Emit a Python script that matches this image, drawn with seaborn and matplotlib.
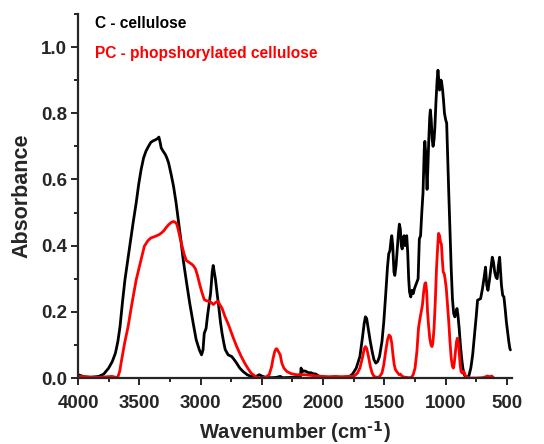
"""
FTIR spectra: cellulose (C) vs phosphorylated cellulose (PC).
"""

import matplotlib
matplotlib.use("Agg")
import matplotlib.pyplot as plt
from matplotlib.ticker import MultipleLocator
import pandas as pd
import seaborn as sns

# ------------------------------------------------------------------
# Data
# ------------------------------------------------------------------
c_wn = [4000, 3950, 3900, 3830, 3790, 3750, 3720, 3695, 3675, 3657, 3637, 3617, 3597, 3578,
        3550, 3525, 3505, 3485, 3465, 3446, 3425, 3406, 3385, 3366, 3350, 3340, 3330, 3321,
        3305, 3287, 3275, 3261, 3240, 3221, 3200, 3182, 3160, 3142, 3115, 3089, 3060, 3036,
        3010, 2992, 2980, 2970, 2955, 2944, 2930, 2918, 2905, 2897, 2888, 2878, 2865, 2852,
        2838, 2825, 2810, 2799, 2775, 2746, 2725, 2706, 2680, 2654, 2620, 2588, 2550, 2522,
        2500, 2469, 2420, 2380, 2350, 2330, 2250, 2200, 2185, 2180, 2172, 2160, 2140, 2120,
        2100, 2080, 2060, 2040, 2020, 1980, 1900, 1820, 1790, 1760, 1730, 1700, 1680, 1665,
        1655, 1645, 1632, 1615, 1600, 1585, 1570, 1555, 1540, 1520, 1505, 1490, 1475, 1465,
        1455, 1445, 1440, 1432, 1422, 1415, 1405, 1395, 1385, 1378, 1370, 1362, 1355, 1348,
        1340, 1332, 1325, 1318, 1310, 1302, 1295, 1285, 1275, 1265, 1255, 1245, 1235, 1225,
        1215, 1205, 1195, 1185, 1175, 1170, 1163, 1157, 1152, 1145, 1138, 1130, 1125, 1118,
        1110, 1103, 1095, 1088, 1080, 1070, 1063, 1056, 1050, 1044, 1038, 1032, 1025, 1018,
        1010, 1000, 992, 985, 975, 965, 955, 945, 935, 925, 915, 908, 900, 890, 880, 870,
        860, 850, 840, 825, 810, 795, 780, 765, 750, 740, 715, 700, 688, 675, 665, 655,
        645, 632, 620, 610, 600, 590, 580, 570, 560, 552, 545, 535, 525, 515, 505, 495,
        485, 477, 472]
c_abs = [0.010, 0.004, 0.002, 0.005, 0.012, 0.030, 0.050, 0.075, 0.110, 0.156, 0.230, 0.297,
         0.350, 0.398, 0.470, 0.530, 0.585, 0.630, 0.665, 0.685, 0.700, 0.712, 0.717, 0.720,
         0.724, 0.728, 0.712, 0.695, 0.685, 0.675, 0.665, 0.650, 0.615, 0.580, 0.530, 0.478,
         0.415, 0.358, 0.290, 0.227, 0.165, 0.116, 0.085, 0.070, 0.085, 0.135, 0.150, 0.186,
         0.225, 0.257, 0.320, 0.340, 0.320, 0.297, 0.255, 0.217, 0.170, 0.136, 0.105, 0.086,
         0.070, 0.065, 0.055, 0.045, 0.030, 0.020, 0.010, 0.005, 0.004, 0.010, 0.006, 0.002,
         0.001, 0.002, 0.005, 0.001, 0.002, 0.004, 0.005, 0.030, 0.018, 0.022, 0.020, 0.016,
         0.016, 0.013, 0.012, 0.007, 0.003, 0.001, 0.000, 0.000, 0.003, 0.012, 0.030, 0.065,
         0.120, 0.165, 0.185, 0.180, 0.150, 0.110, 0.080, 0.055, 0.045, 0.050, 0.065, 0.110,
         0.170, 0.250, 0.335, 0.375, 0.385, 0.420, 0.430, 0.400, 0.320, 0.310, 0.340, 0.390,
         0.440, 0.465, 0.450, 0.400, 0.390, 0.420, 0.430, 0.400, 0.420, 0.430, 0.380, 0.300,
         0.260, 0.245, 0.265, 0.255, 0.270, 0.280, 0.290, 0.300, 0.420, 0.430, 0.500, 0.560,
         0.690, 0.715, 0.680, 0.620, 0.570, 0.640, 0.720, 0.790, 0.810, 0.780, 0.720, 0.700,
         0.720, 0.760, 0.830, 0.900, 0.930, 0.900, 0.870, 0.880, 0.900, 0.890, 0.870, 0.840,
         0.800, 0.780, 0.770, 0.680, 0.560, 0.440, 0.330, 0.240, 0.195, 0.185, 0.200, 0.210,
         0.190, 0.150, 0.100, 0.060, 0.030, 0.012, 0.004, 0.000, 0.008, 0.030, 0.070, 0.130,
         0.190, 0.235, 0.240, 0.270, 0.300, 0.335, 0.280, 0.265, 0.290, 0.330, 0.365, 0.350,
         0.320, 0.305, 0.300, 0.340, 0.365, 0.320, 0.280, 0.250, 0.245, 0.210, 0.170, 0.140,
         0.110, 0.090, 0.085]

pc_wn = [4000, 3900, 3828, 3760, 3723, 3690, 3675, 3660, 3644, 3620, 3591, 3560, 3525, 3490,
         3459, 3430, 3406, 3370, 3340, 3320, 3300, 3280, 3261, 3240, 3221, 3205, 3195, 3180,
         3165, 3155, 3135, 3116, 3096, 3076, 3060, 3042, 3025, 3010, 2990, 2970, 2950, 2931,
         2912, 2896, 2878, 2860, 2843, 2825, 2800, 2772, 2740, 2706, 2672, 2640, 2612, 2588,
         2550, 2508, 2470, 2440, 2420, 2408, 2395, 2385, 2377, 2365, 2350, 2337, 2320, 2297,
         2260, 2218, 2150, 2100, 2050, 2000, 1950, 1900, 1850, 1800, 1760, 1740, 1720, 1700,
         1680, 1665, 1655, 1645, 1630, 1615, 1600, 1585, 1560, 1540, 1520, 1505, 1490, 1475,
         1462, 1450, 1440, 1430, 1420, 1410, 1400, 1390, 1380, 1370, 1355, 1340, 1320, 1300,
         1280, 1265, 1250, 1235, 1222, 1212, 1200, 1190, 1180, 1170, 1163, 1155, 1148, 1140,
         1130, 1120, 1112, 1105, 1095, 1085, 1075, 1065, 1058, 1050, 1042, 1035, 1028, 1020,
         1012, 1005, 995, 985, 975, 965, 955, 945, 937, 930, 920, 912, 905, 897, 890, 882,
         875, 865, 858, 850, 840, 825, 800, 750, 700, 680, 660, 640, 625, 615, 610]
pc_abs = [0.005, 0.003, 0.002, 0.004, 0.005, 0.002, 0.003, 0.020, 0.055, 0.105, 0.156, 0.225,
          0.297, 0.350, 0.398, 0.415, 0.423, 0.428, 0.433, 0.438, 0.445, 0.455, 0.463, 0.470,
          0.473, 0.470, 0.466, 0.445, 0.420, 0.405, 0.375, 0.355, 0.350, 0.345, 0.340, 0.330,
          0.310, 0.287, 0.260, 0.237, 0.233, 0.232, 0.228, 0.222, 0.228, 0.232, 0.222, 0.211,
          0.185, 0.161, 0.128, 0.096, 0.068, 0.045, 0.028, 0.015, 0.004, 0.000, 0.002, 0.010,
          0.035, 0.060, 0.080, 0.088, 0.088, 0.080, 0.070, 0.045, 0.030, 0.020, 0.013, 0.010,
          0.010, 0.008, 0.006, 0.005, 0.004, 0.005, 0.004, 0.005, 0.005, 0.008, 0.015, 0.030,
          0.060, 0.088, 0.095, 0.090, 0.065, 0.035, 0.015, 0.005, 0.002, 0.004, 0.015, 0.040,
          0.080, 0.115, 0.130, 0.125, 0.105, 0.070, 0.040, 0.025, 0.020, 0.015, 0.010, 0.012,
          0.005, 0.003, 0.002, 0.001, 0.002, 0.010, 0.030, 0.080, 0.150, 0.175, 0.200, 0.220,
          0.260, 0.285, 0.288, 0.260, 0.200, 0.160, 0.120, 0.100, 0.095, 0.105, 0.150, 0.230,
          0.330, 0.400, 0.437, 0.430, 0.410, 0.405, 0.360, 0.320, 0.315, 0.300, 0.270, 0.220,
          0.170, 0.110, 0.060, 0.035, 0.030, 0.045, 0.080, 0.110, 0.120, 0.110, 0.080, 0.040,
          0.020, 0.015, 0.020, 0.018, 0.008, 0.002, 0.000, 0.000, 0.001, 0.003, 0.006, 0.004,
          0.006, 0.003, 0.001]

x_ticks = [4000, 3500, 3000, 2500, 2000, 1500, 1000, 500]
y_ticks = [0.0, 0.2, 0.4, 0.6, 0.8, 1.0]

c_df = pd.DataFrame({"wn": c_wn, "abs": c_abs})
pc_df = pd.DataFrame({"wn": pc_wn, "abs": pc_abs})

# ------------------------------------------------------------------
# Plot
# ------------------------------------------------------------------
sns.set_style("ticks")
plt.rcParams["font.family"] = ["Liberation Sans", "DejaVu Sans"]
plt.rcParams["font.weight"] = "bold"
plt.rcParams["mathtext.default"] = "regular"

fig = plt.figure(figsize=(5.44, 4.44), dpi=100)
ax = fig.add_axes([0.1434, 0.1486, 0.798, 0.820])

sns.lineplot(data=c_df, x="wn", y="abs", ax=ax, sort=False, estimator=None,
             color="black", linewidth=2.0)
sns.lineplot(data=pc_df, x="wn", y="abs", ax=ax, sort=False, estimator=None,
             color="#ff0000", linewidth=2.0)

ax.set_xlim(4000, 458)
ax.set_ylim(0, 1.1)
ax.set_xticks(x_ticks)
ax.set_yticks(y_ticks)
ax.xaxis.set_minor_locator(MultipleLocator(250))
ax.yaxis.set_minor_locator(MultipleLocator(0.1))
ax.set_yticklabels([f"{v:.1f}" for v in y_ticks])
ax.tick_params(which="major", direction="out", length=5, width=1.4, labelsize=13.5)
ax.tick_params(axis="x", which="major", pad=7)
ax.tick_params(axis="y", which="major", pad=3)
ax.tick_params(which="minor", direction="out", length=3, width=1.4)
for lbl in ax.get_xticklabels() + ax.get_yticklabels():
    lbl.set_fontweight("bold")

sns.despine(ax=ax)
for s in ["left", "bottom"]:
    ax.spines[s].set_linewidth(1.6)

ax.set_xlabel("Wavenumber (cm$^{\\text{-1}}$)", fontsize=14.5, fontweight="bold", labelpad=5)
ax.set_ylabel("Absorbance", fontsize=15.5, fontweight="bold", labelpad=6)

ax.text(0.039, 0.9725, "C - cellulose", transform=ax.transAxes, fontsize=11.2,
        fontweight="bold", color="black", va="center")
ax.text(0.039, 0.890, "PC - phopshorylated cellulose", transform=ax.transAxes,
        fontsize=11.2, fontweight="bold", color="#ff0000", va="center")

fig.savefig("out.png", dpi=100)
